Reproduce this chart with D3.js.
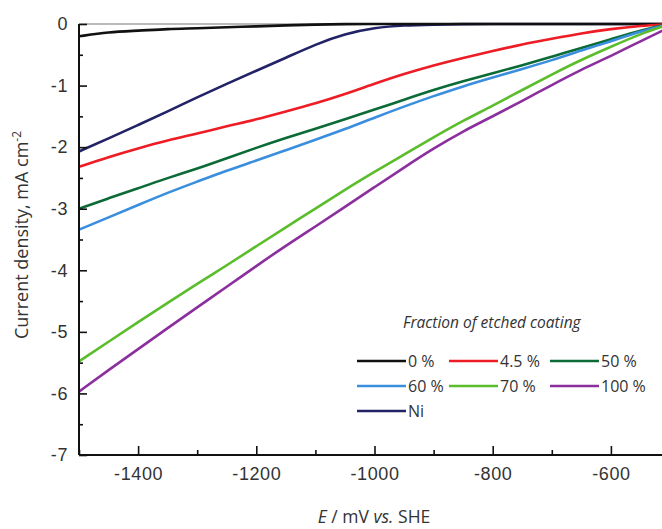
<!DOCTYPE html>
<html>
<head>
<meta charset="utf-8">
<script src="https://cdn.jsdelivr.net/npm/d3@7"></script>
<style>
  body { margin:0; background:#fff; }
  svg { display:block; font-family:'Open Sans', sans-serif; }
  .tick text { font-size:18px; fill:#333; letter-spacing:0.6px; }
</style>
</head>
<body>
<svg id="chart" width="662" height="529"></svg>
<script>
// potentials (mV vs SHE), sampled every 50 mV
const potentials = [-1500,-1450,-1400,-1350,-1300,-1250,-1200,-1150,-1100,-1050,-1000,
                    -950,-900,-850,-800,-750,-700,-650,-600,-550,-500];

// current density (mA cm-2)
const pct0   = [-0.20,-0.13,-0.11,-0.08,-0.07,-0.05,-0.04,-0.02,-0.01,0,0,0,0,0,0,0,0,0,0,0,0];
const pct4_5 = [-2.32,-2.16,-2.02,-1.89,-1.78,-1.66,-1.55,-1.42,-1.29,-1.14,-0.97,-0.81,-0.67,-0.55,-0.44,-0.33,-0.24,-0.15,-0.08,-0.03,0];
const pct50  = [-3.00,-2.83,-2.67,-2.50,-2.35,-2.18,-2.01,-1.85,-1.70,-1.55,-1.39,-1.23,-1.07,-0.93,-0.80,-0.67,-0.53,-0.39,-0.25,-0.10,0];
const pct60  = [-3.34,-3.14,-2.94,-2.74,-2.56,-2.38,-2.22,-2.05,-1.88,-1.71,-1.52,-1.34,-1.17,-1.01,-0.87,-0.73,-0.59,-0.43,-0.28,-0.12,0];
const pct70  = [-5.48,-5.16,-4.84,-4.53,-4.22,-3.92,-3.61,-3.30,-3.00,-2.69,-2.40,-2.12,-1.84,-1.57,-1.33,-1.07,-0.82,-0.58,-0.37,-0.16,0];
const pct100 = [-5.97,-5.62,-5.28,-4.94,-4.60,-4.27,-3.93,-3.60,-3.29,-2.97,-2.65,-2.33,-2.02,-1.74,-1.50,-1.25,-0.99,-0.74,-0.52,-0.28,-0.05];
const nickel = [-2.07,-1.86,-1.64,-1.42,-1.19,-0.97,-0.76,-0.55,-0.33,-0.16,-0.06,-0.02,-0.01,0,0,0,0,0,0,0,0];

const seriesNames  = ["Ni","0 %","4.5 %","50 %","60 %","70 %","100 %"];
const seriesValues = [nickel, pct0, pct4_5, pct50, pct60, pct70, pct100];
const seriesColors = ["#222266","#111111","#ee1c24","#0b6b36","#3a8ede","#5cbd2c","#8c2f9e"];

// legend order (as laid out in the figure, three per row)
const legendOrder = ["0 %","4.5 %","50 %","60 %","70 %","100 %","Ni"];

const xTicks = [-1400,-1200,-1000,-800,-600];
const xMinor = [-1500,-1300,-1100,-900,-700,-500];
const yTicks = [0,-1,-2,-3,-4,-5,-6,-7];
const yMinor = [-0.5,-1.5,-2.5,-3.5,-4.5,-5.5,-6.5];

const svg = d3.select("#chart");

const x = d3.scaleLinear().domain([-1500, -500]).range([79, 670]);
const y = d3.scaleLinear().domain([-7, 0]).range([455, 24]);

// thin frame at zero
svg.append("line")
  .attr("x1", x(-1500)).attr("x2", 662)
  .attr("y1", y(0)).attr("y2", y(0))
  .attr("stroke", "#777").attr("stroke-width", 1.2);

// curves
const line = d3.line()
  .x((d, i) => x(potentials[i]))
  .y(d => y(d))
  .curve(d3.curveBasis);

svg.append("g")
  .selectAll("path")
  .data(seriesValues)
  .join("path")
  .attr("d", d => line(d))
  .attr("fill", "none")
  .attr("stroke", (d, i) => seriesColors[i])
  .attr("stroke-width", 2.6)
  .attr("stroke-linejoin", "round");

// axes
const xAxis = svg.append("g")
  .attr("transform", `translate(0,${y(-7)})`)
  .call(d3.axisBottom(x).tickValues(xTicks).tickSize(-9).tickPadding(12)
        .tickFormat(d => String(d)));
svg.append("g")
  .attr("transform", `translate(0,${y(-7)})`)
  .call(d3.axisBottom(x).tickValues(xMinor).tickSize(-5).tickFormat(""))
  .select(".domain").remove();

const yAxis = svg.append("g")
  .attr("transform", `translate(${x(-1500)},0)`)
  .call(d3.axisLeft(y).tickValues(yTicks).tickSize(-8).tickPadding(11)
        .tickFormat(d => String(d)));
svg.append("g")
  .attr("transform", `translate(${x(-1500)},0)`)
  .call(d3.axisLeft(y).tickValues(yMinor).tickSize(-4).tickFormat(""))
  .select(".domain").remove();

svg.selectAll(".domain").attr("stroke", "#111").attr("stroke-width", 2);
svg.selectAll(".tick line").attr("stroke", "#111").attr("stroke-width", 1.6);
xAxis.select(".domain").attr("d", `M${x(-1500)},0H662`);
yAxis.select(".domain").attr("d", `M0,${y(-7)}V${y(0)}`);

// axis titles
svg.append("text")
  .attr("transform", `translate(28,${235}) rotate(-90)`)
  .attr("text-anchor", "middle")
  .attr("font-size", 18).attr("fill", "#333")
  .html('Current density, mA cm<tspan dy="-7" font-size="12">-2</tspan>');

svg.append("text")
  .attr("x", 374).attr("y", 523)
  .attr("text-anchor", "middle")
  .attr("font-size", 17.5).attr("fill", "#333")
  .html('<tspan font-style="italic">E</tspan> / mV <tspan font-style="italic">vs.</tspan> SHE');

// legend
svg.append("text")
  .attr("x", 403).attr("y", 328)
  .attr("font-size", 15.5).attr("font-style", "italic").attr("fill", "#333")
  .text("Fraction of etched coating");

const legendCols = [357, 449, 550];
const legendRows = [361, 386, 411];
const legend = svg.append("g")
  .selectAll("g")
  .data(legendOrder)
  .join("g")
  .attr("transform", (d, i) => `translate(${legendCols[i % 3]},${legendRows[Math.floor(i / 3)]})`);

legend.append("line")
  .attr("x1", 0).attr("x2", 49)
  .attr("stroke", d => seriesColors[seriesNames.indexOf(d)])
  .attr("stroke-width", 2.6);
legend.append("text")
  .attr("x", 51).attr("dy", "0.35em")
  .attr("font-size", 16).attr("fill", "#333")
  .text(d => d);
</script>
</body>
</html>
